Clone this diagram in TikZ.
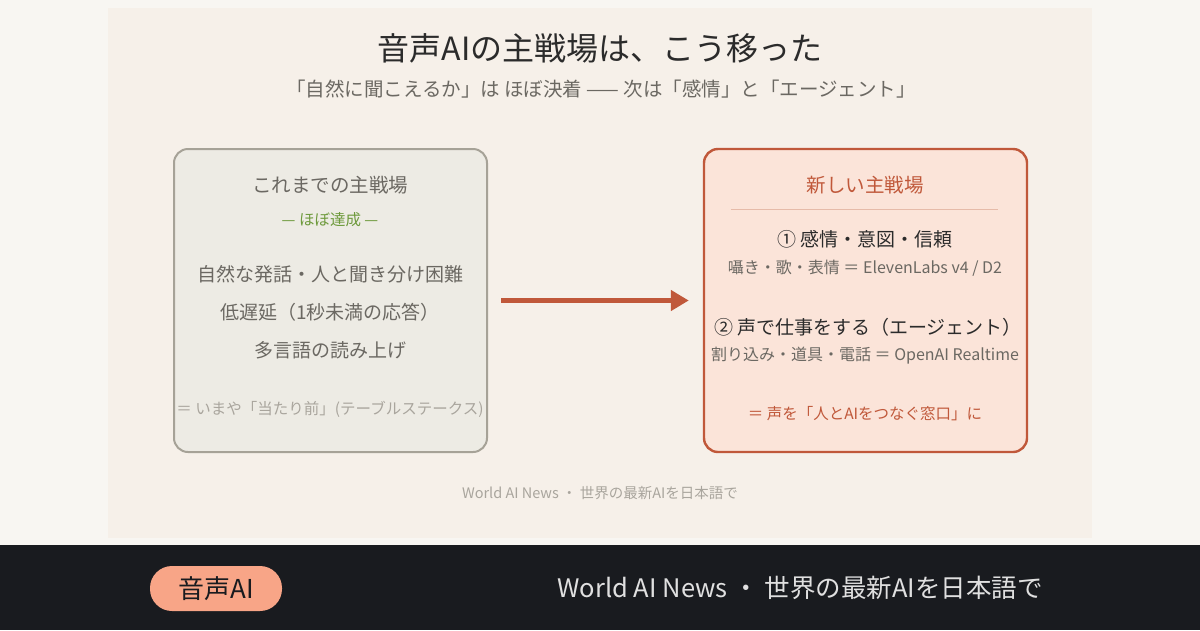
\documentclass[tikz,border=0pt]{standalone}
\usepackage{fontspec}
\setmainfont{Noto Sans CJK JP}
\usetikzlibrary{arrows.meta, positioning}
\definecolor{pagebg}{HTML}{F8F6F2}
\definecolor{panelbg}{HTML}{F6F0E9}
\definecolor{barbg}{HTML}{191B1F}
\definecolor{oldfill}{HTML}{EDEBE4}
\definecolor{olddraw}{HTML}{A6A297}
\definecolor{newfill}{HTML}{FBE4D9}
\definecolor{rust}{HTML}{C0583A}
\definecolor{rulepink}{HTML}{E6BBA9}
\definecolor{inkdark}{HTML}{2B2B2B}
\definecolor{inkgray}{HTML}{6B6862}
\definecolor{inklight}{HTML}{A9A59D}
\definecolor{leafgreen}{HTML}{6E9A3C}
\definecolor{pillfill}{HTML}{F8A587}

\begin{document}
\begin{tikzpicture}[
  x=1pt, y=-1pt,
  fieldbox/.style={rounded corners=14pt, line width=2pt, minimum width=313pt, minimum height=303pt},
  head/.style={font=\fontsize{19.5}{23}\selectfont},
  item/.style={font=\fontsize{19}{23}\selectfont, text=inkgray},
  point/.style={font=\fontsize{19}{23}\selectfont, text=inkdark},
  note/.style={font=\fontsize{15.5}{18}\selectfont},
  shiftarrow/.style={-{Triangle[length=18pt, width=20pt]}, line width=4.5pt, draw=rust}
]
  % background, panel and bottom bar
  \fill[pagebg] (0,0) rectangle (1200,545);
  \fill[panelbg] (108,8) rectangle (1092,538);
  \fill[barbg] (0,545) rectangle (1200,630);

  % title
  \node[font=\fontsize{32}{38}\selectfont, text=inkdark] (title) at (600,48) {音声AIの主戦場は、こう移った};
  \node[font=\fontsize{19.5}{23}\selectfont, text=inkgray] (subtitle) at (601,89) {「自然に聞こえるか」は ほぼ決着 —— 次は「感情」と「エージェント」};

  % left box
  \node[fieldbox, draw=olddraw, fill=oldfill, minimum width=313pt] (oldbox) at (330.5,300.5) {};
  \node[head, text=inkgray] (oldhead) at (330,185) {これまでの主戦場};
  \node[note, text=leafgreen] (oldtag) at (330,220) {— ほぼ達成 —};
  \node[item] (olda) at (330,274) {自然な発話・人と聞き分け困難};
  \node[item] (oldb) at (330,312) {低遅延（1秒未満の応答）};
  \node[item] (oldc) at (330,350) {多言語の読み上げ};
  \node[note, text=inklight] (oldnote) at (330,409) {＝ いまや「当たり前」(テーブルステークス)};

  % right box
  \node[fieldbox, draw=rust, fill=newfill, minimum width=323pt, line width=2.4pt] (newbox) at (865.5,300.5) {};
  \node[head, text=rust] (newhead) at (865,185) {新しい主戦場};
  \draw[rulepink, line width=1pt] ([xshift=28pt]newbox.west |- 0,209) coordinate (rulea) -- ([xshift=-30pt]newbox.east |- 0,209) coordinate (ruleb);
  \node[point] (newa) at (865,239) {① 感情・意図・信頼};
  \node[note, text=inkgray, font=\fontsize{16}{19}\selectfont] (newanote) at (865,268) {囁き・歌・表情 ＝ ElevenLabs v4 / D2};
  \node[point] (newb) at (868,327) {② 声で仕事をする（エージェント）};
  \node[note, text=inkgray, font=\fontsize{16}{19}\selectfont] (newbnote) at (865,356) {割り込み・道具・電話 ＝ OpenAI Realtime};
  \node[note, text=rust] (newnote) at (865,414) {＝ 声を「人とAIをつなぐ窓口」に};

  % shift arrow
  \draw[shiftarrow, shorten <=13pt, shorten >=14pt] (oldbox.east) -- (newbox.west);

  % footer
  \node[font=\fontsize{14.5}{17}\selectfont, text=inklight] (credit) at (600,493) {World AI News ・ 世界の最新AIを日本語で};

  % bottom bar
  \node[fill=pillfill, rounded corners=22pt, minimum width=132pt, minimum height=45pt, font=\fontsize{26}{30}\selectfont, text=barbg] (tagpill) at (216,588.5) {音声AI};
  \node[font=\fontsize{25.5}{30}\selectfont, text=white!88!black] (brand) at (800,588) {World AI News ・ 世界の最新AIを日本語で};
\end{tikzpicture}
\end{document}
